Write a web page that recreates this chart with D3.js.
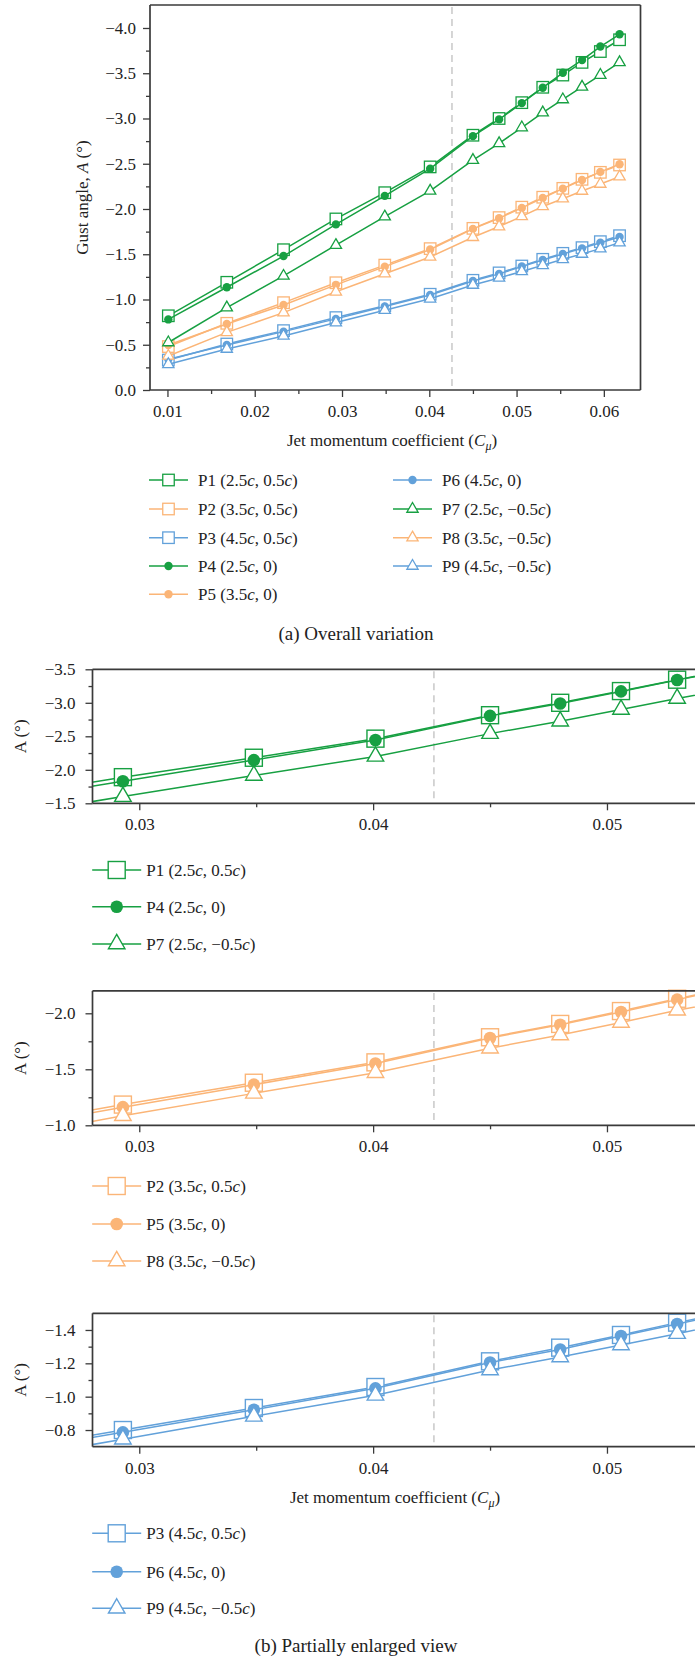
<!DOCTYPE html>
<html><head><meta charset="utf-8">
<script src="https://cdn.jsdelivr.net/npm/d3@7/dist/d3.min.js"></script>
<style>
body{margin:0;background:#fff;}
svg text{font-family:"Liberation Serif","Times New Roman",serif;fill:#222;}
</style></head>
<body><svg id="chart" width="695" height="1660"></svg>
<script>
// ---------------- data ----------------
const cmu = [0.0101, 0.0168, 0.0233, 0.0293, 0.0349, 0.0401, 0.0450, 0.0480, 0.0506, 0.0530, 0.0553, 0.0575, 0.0596, 0.0618];
const P1 = [-0.82, -1.19, -1.55, -1.89, -2.18, -2.465, -2.815, -3.00, -3.175, -3.345, -3.48, -3.62, -3.74, -3.87];
const P2 = [-0.48, -0.737, -0.965, -1.185, -1.38, -1.562, -1.786, -1.905, -2.02, -2.13, -2.228, -2.328, -2.405, -2.486];
const P3 = [-0.331, -0.508, -0.656, -0.80, -0.932, -1.058, -1.212, -1.294, -1.37, -1.444, -1.51, -1.573, -1.639, -1.705];
const P4 = [-0.78, -1.135, -1.48, -1.83, -2.145, -2.445, -2.805, -2.99, -3.17, -3.34, -3.505, -3.645, -3.795, -3.93];
const P5 = [-0.497, -0.729, -0.939, -1.162, -1.363, -1.552, -1.78, -1.898, -2.012, -2.122, -2.225, -2.32, -2.41, -2.494];
const P6 = [-0.34, -0.497, -0.645, -0.786, -0.922, -1.05, -1.205, -1.283, -1.364, -1.436, -1.503, -1.565, -1.628, -1.69];
const P7 = [-0.525, -0.91, -1.26, -1.60, -1.915, -2.20, -2.54, -2.725, -2.90, -3.065, -3.21, -3.35, -3.48, -3.62];
const P8 = [-0.376, -0.637, -0.855, -1.085, -1.285, -1.47, -1.688, -1.806, -1.918, -2.028, -2.114, -2.199, -2.276, -2.357];
const P9 = [-0.284, -0.453, -0.597, -0.745, -0.882, -1.008, -1.16, -1.238, -1.31, -1.378, -1.444, -1.503, -1.562, -1.628];

const seriesNames = ["P1","P2","P3","P4","P5","P6","P7","P8","P9"];
const seriesValues = [P1,P2,P3,P4,P5,P6,P7,P8,P9];
const seriesXPos = ["2.5c","3.5c","4.5c","2.5c","3.5c","4.5c","2.5c","3.5c","4.5c"];
const seriesYPos = ["0.5c","0.5c","0.5c","0","0","0","\u22120.5c","\u22120.5c","\u22120.5c"];
const seriesColors = ["#17a042","#fbb577","#62a1da","#17a042","#fbb577","#62a1da","#17a042","#fbb577","#62a1da"];
const seriesShapes = ["square","square","square","circle","circle","circle","triangle","triangle","triangle"];

const dashX = 0.0426;

// tick values
const aXTicks = [0.01,0.02,0.03,0.04,0.05,0.06];
const aXMinor = [0.015,0.025,0.035,0.045,0.055];
const aYTicks = [0,-0.5,-1.0,-1.5,-2.0,-2.5,-3.0,-3.5,-4.0];
const aYMinor = [-0.25,-0.75,-1.25,-1.75,-2.25,-2.75,-3.25,-3.75];
const bXTicks = [0.03,0.04,0.05];
const bXMinor = [0.035,0.045];
const b1YTicks = [-1.5,-2.0,-2.5,-3.0,-3.5];
const b1YMinor = [-1.75,-2.25,-2.75,-3.25];
const b2YTicks = [-1.0,-1.5,-2.0];
const b2YMinor = [-1.25,-1.75];
const b3YTicks = [-0.8,-1.0,-1.2,-1.4];
const b3YMinor = [-0.9,-1.1,-1.3];

// ---------------- drawing ----------------
const svg = d3.select("#chart");
const fmtMinus = s => s.replace("-", "\u2212");
const frameColor = "#3a3a3a";

function addLabel(t, name, xp, yp) {
  t.append("tspan").text(name + " (");
  const addPos = s => {
    if (s.endsWith("c")) {
      t.append("tspan").text(s.slice(0, -1));
      t.append("tspan").attr("font-style","italic").text("c");
    } else t.append("tspan").text(s);
  };
  addPos(xp);
  t.append("tspan").text(", ");
  addPos(yp);
  t.append("tspan").text(")");
}

function drawMarker(g, shape, cx, cy, color, sz) {
  if (shape === "square") {
    g.append("rect").attr("x", cx - sz.sq/2).attr("y", cy - sz.sq/2)
      .attr("width", sz.sq).attr("height", sz.sq)
      .attr("fill", "#fff").attr("stroke", color).attr("stroke-width", sz.sw);
  } else if (shape === "circle") {
    g.append("circle").attr("cx", cx).attr("cy", cy).attr("r", sz.r).attr("fill", color);
  } else {
    g.append("path").attr("d", d3.symbol(d3.symbolTriangle, sz.tri)())
      .attr("transform", `translate(${cx},${cy})`)
      .attr("fill", "#fff").attr("stroke", color).attr("stroke-width", sz.sw);
  }
}

function panel(cfg) {
  const g = svg.append("g");
  const x = d3.scaleLinear().domain(cfg.xDomain).range(cfg.xRange);
  const y = d3.scaleLinear().domain(cfg.yDomain).range(cfg.yRange);
  const [x0, x1] = cfg.xRange, [yb, yt] = cfg.yRange;
  const clipId = "clip" + cfg.id;
  svg.append("clipPath").attr("id", clipId).append("rect")
    .attr("x", x0).attr("y", yt - 12).attr("width", Math.min(x1, 695) - x0 + 20).attr("height", yb - yt + 24);
  const lineClipId = "lclip" + cfg.id;
  svg.append("clipPath").attr("id", lineClipId).append("rect")
    .attr("x", x0).attr("y", yt).attr("width", Math.min(x1, 695) - x0 + 20).attr("height", yb - yt);

  // dashed line
  g.append("line").attr("x1", x(dashX)).attr("x2", x(dashX)).attr("y1", yt + 2).attr("y2", yb)
    .attr("stroke", "#c8c8c8").attr("stroke-width", 1.5).attr("stroke-dasharray", "7,5");

  // series
  const data = g.append("g").attr("clip-path", `url(#${clipId})`);
  const line = d3.line().x((d, i) => x(cmu[i])).y(d => y(d));
  cfg.series.forEach(si => {
    const vals = seriesValues[si];
    data.append("path").attr("d", line(vals)).attr("fill", "none")
      .attr("clip-path", `url(#${lineClipId})`)
      .attr("stroke", seriesColors[si]).attr("stroke-width", cfg.lw);
    vals.forEach((v, i) => {
      const px = x(cmu[i]);
      if (px < x0 - 1 || px > 700) return;
      drawMarker(data, seriesShapes[si], px, y(v), seriesColors[si], cfg.msz);
    });
  });

  // frame
  const fr = (a, b, c, d) => g.append("line").attr("x1", a).attr("x2", b).attr("y1", c).attr("y2", d)
    .attr("stroke", frameColor).attr("stroke-width", 1.7);
  fr(x0, x1, yb, yb); fr(x0, x1, yt, yt); fr(x0, x0, yt, yb);
  if (x1 < 695) fr(x1, x1, yt, yb);

  // x axis ticks
  const xa = g.append("g").attr("transform", `translate(0,${yb})`);
  xa.call(d3.axisBottom(x).tickValues(cfg.xTicks).tickSize(7).tickPadding(8).tickFormat(d3.format(".2f")));
  xa.append("g").call(d3.axisBottom(x).tickValues(cfg.xMinor).tickSize(4).tickFormat(""));
  // y axis ticks
  const ya = g.append("g").attr("transform", `translate(${x0},0)`);
  ya.call(d3.axisLeft(y).tickValues(cfg.yTicks).tickSize(7).tickPadding(cfg.yPad).tickFormat(d => fmtMinus(d3.format(".1f")(d))));
  ya.append("g").call(d3.axisLeft(y).tickValues(cfg.yMinor).tickSize(4).tickFormat(""));
  g.selectAll(".domain").remove();
  g.selectAll(".tick line").attr("stroke", frameColor).attr("stroke-width", 1.3);
  g.selectAll(".tick text").attr("font-size", 17).attr("fill", "#222")
    .attr("font-family", '"Liberation Serif","Times New Roman",serif');

  // y title
  const yt0 = g.append("text").attr("transform", `translate(${cfg.yTitleX},${(yt + yb) / 2}) rotate(-90)`)
    .attr("text-anchor", "middle").attr("dy", "0.35em").attr("font-size", 17);
  if (cfg.yTitleLong) {
    yt0.append("tspan").text("Gust angle, ");
    yt0.append("tspan").attr("font-style", "italic").text("A");
  } else {
    yt0.append("tspan").text("A");
  }
  yt0.append("tspan").text(" (\u00b0)");

  // x title
  if (cfg.xTitleY) {
    const xt = g.append("text").attr("x", cfg.xTitleX).attr("y", cfg.xTitleY).attr("dy", "0.35em")
      .attr("text-anchor", "middle").attr("font-size", 17);
    xt.append("tspan").text("Jet momentum coefficient (");
    xt.append("tspan").attr("font-style", "italic").text("C");
    xt.append("tspan").attr("font-style", "italic").attr("font-size", 12).attr("dy", "4").text("\u03bc");
    xt.append("tspan").attr("dy", "-4").text(")");
  }

  // legend
  cfg.legend.forEach(it => {
    const si = it.s;
    const lg = g.append("g");
    lg.append("line").attr("x1", it.x).attr("x2", it.x + cfg.legLine).attr("y1", it.y).attr("y2", it.y)
      .attr("stroke", seriesColors[si]).attr("stroke-width", cfg.lw);
    drawMarker(lg, seriesShapes[si], it.x + cfg.legLine / 2, it.y, seriesColors[si], cfg.legMsz);
    const t = lg.append("text").attr("x", it.x + cfg.legLine + cfg.legGap).attr("y", it.y).attr("dy", "0.35em").attr("font-size", 17);
    addLabel(t, seriesNames[si], seriesXPos[si], seriesYPos[si]);
  });

  // caption
  if (cfg.caption) {
    g.append("text").attr("x", 356).attr("y", cfg.captionY).attr("dy", "0.35em")
      .attr("text-anchor", "middle").attr("font-size", 19).text(cfg.caption);
  }
}

const smallM = {sq: 11.5, r: 4.2, tri: 55, sw: 1.3};
const bigM = {sq: 17, r: 6.3, tri: 118, sw: 1.4};

// Panel (a)
const aRowsY = [480, 509, 537.7, 566, 594.3];
panel({
  id: "a", xDomain: [0.008, 0.0642], xRange: [150, 640.5], yDomain: [0, -4.254], yRange: [390, 5],
  xTicks: aXTicks, xMinor: aXMinor, yTicks: aYTicks, yMinor: aYMinor, yPad: 7,
  series: [0,1,2,3,4,5,6,7,8], lw: 1.5, msz: smallM,
  yTitleX: 82, yTitleLong: true, xTitleX: 392, xTitleY: 440,
  legLine: 39, legGap: 10, legMsz: smallM,
  legend: [
    {s:0, x:149, y:aRowsY[0]}, {s:1, x:149, y:aRowsY[1]}, {s:2, x:149, y:aRowsY[2]},
    {s:3, x:149, y:aRowsY[3]}, {s:4, x:149, y:aRowsY[4]},
    {s:5, x:393, y:aRowsY[0]}, {s:6, x:393, y:aRowsY[1]}, {s:7, x:393, y:aRowsY[2]}, {s:8, x:393, y:aRowsY[3]}
  ],
  caption: "(a) Overall variation", captionY: 633
});

// Panel (b) zoomed views
const bX = {xDomain: [0.028, 0.055], xRange: [92.5, 92.5 + 0.027 * 23385]};
panel(Object.assign({
  id: "b1", yDomain: [-1.5, -3.5], yRange: [803.3, 669.3],
  xTicks: bXTicks, xMinor: bXMinor, yTicks: b1YTicks, yMinor: b1YMinor, yPad: 10,
  series: [0,3,6], lw: 1.5, msz: bigM, yTitleX: 20,
  legLine: 49, legGap: 5, legMsz: bigM,
  legend: [{s:0, x:92.2, y:870}, {s:3, x:92.2, y:906.7}, {s:6, x:92.2, y:944}]
}, bX));
panel(Object.assign({
  id: "b2", yDomain: [-1.0, -2.2], yRange: [1125.3, 990.9],
  xTicks: bXTicks, xMinor: bXMinor, yTicks: b2YTicks, yMinor: b2YMinor, yPad: 10,
  series: [1,4,7], lw: 1.5, msz: bigM, yTitleX: 20,
  legLine: 49, legGap: 5, legMsz: bigM,
  legend: [{s:1, x:92.2, y:1186}, {s:4, x:92.2, y:1224}, {s:7, x:92.2, y:1261}]
}, bX));
panel(Object.assign({
  id: "b3", yDomain: [-0.7, -1.5], yRange: [1446.7, 1313.3],
  xTicks: bXTicks, xMinor: bXMinor, yTicks: b3YTicks, yMinor: b3YMinor, yPad: 10,
  series: [2,5,8], lw: 1.5, msz: bigM, yTitleX: 20, xTitleX: 395, xTitleY: 1496.7,
  legLine: 49, legGap: 5, legMsz: bigM,
  legend: [{s:2, x:92.2, y:1533.3}, {s:5, x:92.2, y:1571.7}, {s:8, x:92.2, y:1608.3}],
  caption: "(b) Partially enlarged view", captionY: 1645
}, bX));
</script>
</body></html>
